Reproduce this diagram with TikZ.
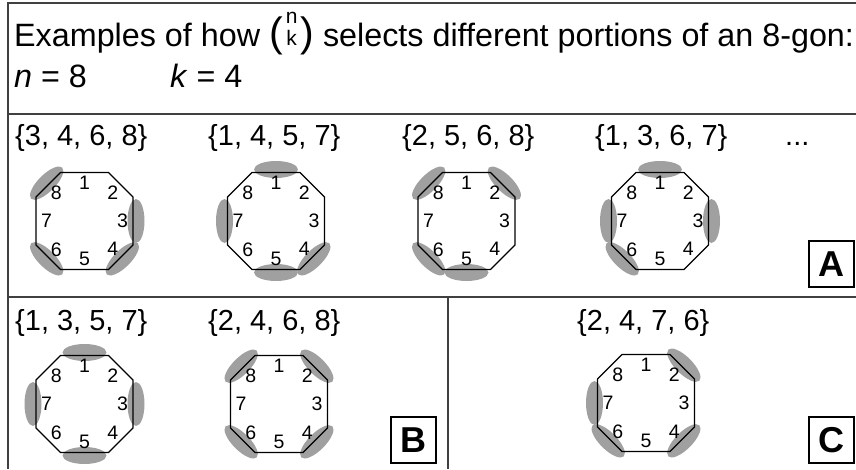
\documentclass[tikz,border=0pt]{standalone}
\usepackage{fontspec}
\setmainfont{Liberation Sans}
\usepackage{tikz}
\usetikzlibrary{positioning}
\definecolor{blobgray}{RGB}{160,160,160}
\definecolor{rulegray}{RGB}{64,64,64}
\newcommand{\nkbinom}{{\fontsize{41}{41}\selectfont(}\hspace{3pt}\raisebox{1pt}{\fontsize{21}{22}\selectfont\begin{tabular}[b]{@{}c@{}}n\\k\end{tabular}}\hspace{3pt}{\fontsize{41}{41}\selectfont)}}

\begin{document}
\begin{tikzpicture}[x=1pt,y=1pt,
     frame/.style={draw=rulegray,line width=1.4pt},
     big/.style={font=\fontsize{29}{35}\selectfont,inner sep=0pt,anchor=base west},
     head/.style={font=\fontsize{32.3}{38}\selectfont,inner sep=0pt,anchor=base west},
     edgelbl/.style={font=\fontsize{19.5}{22}\selectfont,inner sep=0pt},
     oct/.style={draw=black,line width=1.2pt},
     blob/.style={fill=blobgray},
     tag/.style={draw=black,line width=1.2pt,minimum width=45pt,minimum height=46pt,inner sep=0pt,font=\bfseries\fontsize{36}{36}\selectfont}]
    \useasboundingbox (0,0) rectangle (856,-469);
    % frame and panels
    \draw[frame] (8,-469) -- (8,-3) -- (856,-3);
    \draw[frame] (8,-114) -- (856,-114);
    \draw[frame] (8,-297) -- (856,-297);
    \draw[frame] (448,-297) -- (448,-469);
    % heading
    \node[head] (head) at (14,-46) {Examples of how \nkbinom\ selects different portions of an 8-gon:};
    \node[head] (nval) at (14,-87) {\textit{n} = 8};
    \node[head] (kval) at (170,-87) {\textit{k} = 4};
    % chosen sets
    \node[big] (set1) at (15,-145)  {\{3, 4, 6, 8\}};
    \node[big] (set2) at (208,-145) {\{1, 4, 5, 7\}};
    \node[big] (set3) at (402,-145) {\{2, 5, 6, 8\}};
    \node[big] (set4) at (595,-145) {\{1, 3, 6, 7\}};
    \node[big] (more) at (785,-145) {...};
    \node[big] (set5) at (15,-330)  {\{1, 3, 5, 7\}};
    \node[big] (set6) at (208,-330) {\{2, 4, 6, 8\}};
    \node[big] (set7) at (577,-330) {\{2, 4, 7, 6\}};
    % octagons
    \foreach \cx/\cy/\sel [count=\i] in {84.5/-221/{3,4,6,8}, 276/-221/{1,4,5,7}, 466.5/-221/{2,5,6,8}, 660/-221/{1,3,6,7},
                                         84.5/-404/{1,3,5,7}, 279/-404/{2,4,6,8}, 646/-403/{2,4,7,6}} {
      \foreach \e in \sel {
        \pgfmathsetmacro{\a}{90-45*(\e-1)}
        \pgfmathsetmacro{\d}{mod(\e,2)==1 ? 51.5 : 53.5}
        \fill[blob,shift={(\cx,\cy)},rotate=\a] (\d,0) ellipse [x radius=8.5,y radius=22];
      }
      \draw[oct,shift={(\cx,\cy)}] (-24,48.5) -- (24,48.5) -- (48.5,24) -- (48.5,-24)
            -- (24,-48.5) -- (-24,-48.5) -- (-48.5,-24) -- (-48.5,24) -- cycle;
      \foreach \e in {1,...,8} {
        \pgfmathsetmacro{\a}{90-45*(\e-1)}
        \pgfmathsetmacro{\r}{mod(\e,2)==1 ? 38 : 40}
        \path[shift={(\cx,\cy)}] node[edgelbl] (o\i-\e) at (\a:\r) {\e};
      }
    }
    % panel tags
    \node[tag] (tagA) at (831.5,-264) {A};
    \node[tag] (tagB) at (413.5,-440) {B};
    \node[tag] (tagC) at (831.5,-440) {C};
\end{tikzpicture}
\end{document}
